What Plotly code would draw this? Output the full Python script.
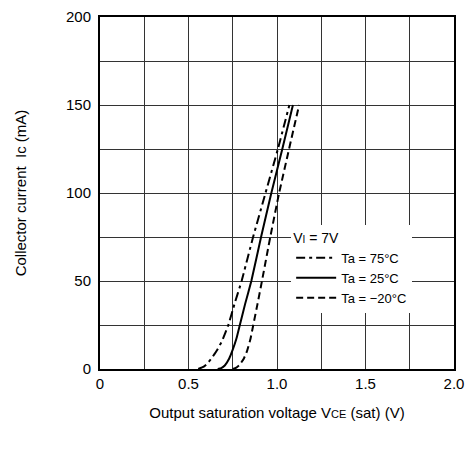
import plotly.graph_objects as go

# Data (VCE(sat) in V, Ic in mA)
ic_75 = [0, 1, 2.5, 6, 10.5, 16, 25, 37, 50, 75, 100, 125, 150]
vce_75 = [0.555, 0.58, 0.60, 0.63, 0.66, 0.69, 0.725, 0.76, 0.80, 0.865, 0.935, 1.005, 1.07]
ic_25 = [0, 0.5, 2, 6, 11, 17, 25, 37, 50, 75, 100, 125, 150]
vce_25 = [0.665, 0.685, 0.705, 0.73, 0.75, 0.77, 0.79, 0.82, 0.855, 0.91, 0.968, 1.03, 1.09]
ic_m20 = [0, 0.8, 2.5, 6, 10, 17, 25, 37, 50, 75, 100, 125, 150]
vce_m20 = [0.75, 0.77, 0.79, 0.813, 0.83, 0.85, 0.866, 0.89, 0.915, 0.962, 1.012, 1.068, 1.125]

series_names = ["Ta = 75°C", "Ta = 25°C", "Ta = \u221220°C"]
x_ticks = [0, 0.5, 1.0, 1.5, 2.0]
x_tick_labels = ["0", "0.5", "1.0", "1.5", "2.0"]
y_ticks = [0, 50, 100, 150, 200]
y_tick_labels = ["0", "50", "100", "150", "200"]

FONT = "Liberation Sans, Arial, sans-serif"

fig = go.Figure()
fig.add_trace(go.Scatter(x=vce_75, y=ic_75, mode="lines", name=series_names[0],
                         line=dict(color="black", width=2, dash="9px,4px,3px,4px", shape="spline", smoothing=0.3)))
fig.add_trace(go.Scatter(x=vce_25, y=ic_25, mode="lines", name=series_names[1],
                         line=dict(color="black", width=2, dash="solid", shape="spline", smoothing=0.3)))
fig.add_trace(go.Scatter(x=vce_m20, y=ic_m20, mode="lines", name=series_names[2],
                         line=dict(color="black", width=2, dash="7px,4px", shape="spline", smoothing=0.3)))

fig.update_layout(
    width=465, height=445,
    margin=dict(l=92, r=19, t=9, b=84),
    paper_bgcolor="white", plot_bgcolor="white",
    font=dict(family=FONT, size=15, color="black"),
    showlegend=True,
    legend=dict(
        x=0.54, y=0.41, xanchor="left", yanchor="top",
        bgcolor="white", borderwidth=0,
        font=dict(family=FONT, size=13, color="black"),
        title=dict(text="V<span style='font-size:10px'>I</span> = 7V",
                   side="top", font=dict(family=FONT, size=14)),
        itemwidth=40, tracegroupgap=0,
    ),
    xaxis=dict(
        range=[0, 2.0], tickvals=x_ticks, ticktext=x_tick_labels,
        showgrid=True, gridcolor="#333", gridwidth=1,
        minor=dict(dtick=0.25, showgrid=True, gridcolor="#333", gridwidth=1),
        showline=True, linecolor="black", linewidth=2, mirror=True,
        ticks="", zeroline=False, ticklabeloverflow="allow",
        title=dict(text="Output saturation voltage V<span style='font-size:11px'>CE</span> (sat) (V)",
                   standoff=16, font=dict(size=15)),
        automargin=False,
    ),
    yaxis=dict(
        range=[0, 200], tickvals=y_ticks, ticktext=y_tick_labels,
        showgrid=True, gridcolor="#333", gridwidth=1,
        minor=dict(dtick=25, showgrid=True, gridcolor="#333", gridwidth=1),
        showline=True, linecolor="black", linewidth=2, mirror=True,
        ticks="", zeroline=False, ticklabeloverflow="allow", ticklabelstandoff=4,
        title=dict(text="Collector current  Ic (mA)", standoff=36, font=dict(size=15)),
        automargin=False,
    ),
)

fig.write_html("out.html")
